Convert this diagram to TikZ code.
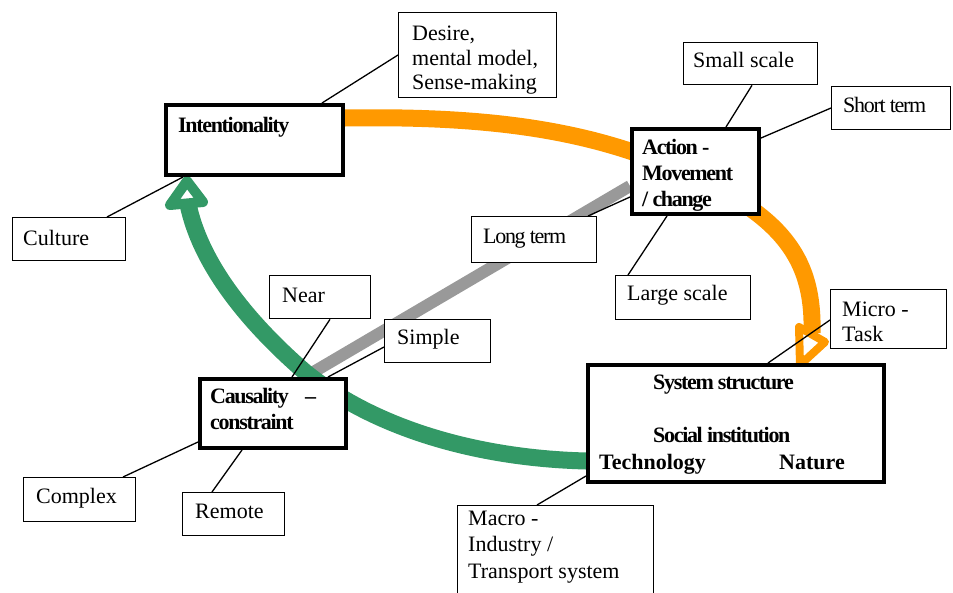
\documentclass[tikz,border=0pt]{standalone}
\usepackage{fontspec}
\setmainfont{Liberation Serif}
\newfontfamily\condfont[LetterSpace=-6]{Liberation Serif}
\definecolor{oline}{HTML}{FF9900}
\definecolor{gline}{HTML}{339966}
\definecolor{grline}{HTML}{999999}
\pgfdeclarelayer{bg}
\pgfsetlayers{bg,main}
\begin{document}
\begin{tikzpicture}[x=1pt,y=-1pt,
  thinbox/.style={draw, line width=1.3pt, fill=white, inner sep=0pt, anchor=north west},
  thickbox/.style={draw, line width=4pt, fill=white, inner sep=0pt, anchor=north west},
  txt/.style={anchor=base west, inner sep=0pt, font=\fontsize{22}{25}\selectfont},
  ctxt/.style={anchor=base west, inner sep=0pt, font=\fontsize{22}{25}\selectfont\condfont},
  btxt/.style={anchor=base west, inner sep=0pt, font=\fontsize{22}{25}\selectfont\condfont\bfseries},
  bntxt/.style={anchor=base west, inner sep=0pt, font=\fontsize{22}{25}\selectfont\bfseries},
  conn/.style={line width=1.3pt},
  orangeline/.style={line width=17pt, oline},
  greenline/.style={line width=17pt, gline},
  grayline/.style={line width=12pt, grline},
  headline/.style={line join=round, fill=white}]
\useasboundingbox (0,0) rectangle (953,592);
\clip (0,0) rectangle (953,592);

% boxes
\node[thinbox, minimum width=158pt, minimum height=85pt] (desire) at (398,12) {};
\node[thickbox, minimum width=177pt, minimum height=70pt] (int) at (164,103) {};
\node[thinbox, minimum width=134pt, minimum height=42pt] (small) at (683,42) {};
\node[thinbox, minimum width=119pt, minimum height=43pt] (short) at (831,86) {};
\node[thickbox, minimum width=127pt, minimum height=85pt] (action) at (630,127) {};
\node[thinbox, minimum width=113pt, minimum height=43pt] (culture) at (12,217) {};
\node[thinbox, minimum width=125pt, minimum height=46pt] (longterm) at (471,216) {};
\node[thinbox, minimum width=135pt, minimum height=44pt] (large) at (615,275) {};
\node[thinbox, minimum width=101pt, minimum height=43pt] (near) at (269,275) {};
\node[thinbox, minimum width=106pt, minimum height=43pt] (simple) at (384,319) {};
\node[thinbox, minimum width=116pt, minimum height=59pt] (micro) at (830,289) {};
\node[thickbox, minimum width=146pt, minimum height=69pt] (causal) at (198,377) {};
\node[thickbox, minimum width=296pt, minimum height=117pt] (system) at (586,363) {};
\node[thinbox, minimum width=112pt, minimum height=44pt] (complex) at (23,477) {};
\node[thinbox, minimum width=102pt, minimum height=43pt] (remote) at (182,492) {};
\node[thinbox, minimum width=196pt, minimum height=100pt] (macro) at (457,505) {};

% texts
\node[txt] (t1) at (412,40) {Desire,};
\node[txt] (t2) at (412,65) {mental model,};
\node[txt] (t3) at (412,89) {Sense-making};
\node[btxt] (t4) at (178,132) {Intentionality};
\node[txt] (t5) at (693,67) {Small scale};
\node[ctxt] (t6) at (843,112) {Short term};
\node[btxt] (t7) at (642,154) {Action -};
\node[btxt] (t8) at (642,180) {Movement};
\node[btxt] (t9) at (642,206) {/ change};
\node[txt] (t10) at (23,245) {Culture};
\node[ctxt] (t11) at (483,243) {Long term};
\node[txt] (t12) at (627,300) {Large scale};
\node[txt] (t13) at (282,302) {Near};
\node[txt] (t14) at (397,344) {Simple};
\node[txt] (t15) at (842,316) {Micro -};
\node[txt] (t16) at (842,341) {Task};
\node[btxt] (t17) at (210,403) {Causality};
\node[btxt] (t18) at (305,403) {–};
\node[btxt] (t19) at (210,429) {constraint};
\node[btxt] (t20) at (653,389) {System structure};
\node[btxt] (t21) at (653,442) {Social institution};
\node[bntxt] (t22) at (599,469) {Technology};
\node[bntxt] (t23) at (779,469) {Nature};
\node[txt] (t24) at (36,503) {Complex};
\node[txt] (t25) at (195,518) {Remote};
\node[txt] (t26) at (468,525) {Macro -};
\node[txt] (t27) at (468,551) {Industry /};
\node[txt] (t28) at (468,578) {Transport system};

% thick curves behind the boxes
\begin{pgfonlayer}{bg}
\draw[grayline] ([xshift=107pt]causal.north west) -- ([yshift=-59pt]action.north west);
\draw[greenline] ([yshift=-98pt]system.north west) .. controls (470,458) and (370,425) .. (305,372)
   .. controls (245,320) and (200,262) .. (188,204);
\draw[gline, line width=10pt, headline] (170,205) -- (187,181) -- (203,202) -- cycle;
\draw[orangeline] ([yshift=22pt]int.east) .. controls (470,116) and (570,126) .. (660,162)
   .. controls (780,210) and (814,255) .. (812,333);
\draw[oline, line width=8pt, headline] (799,327) -- (825,342) -- (800,365) -- cycle;
\end{pgfonlayer}

% connectors
\draw[conn] ([yshift=-43pt]desire.north west) -- ([xshift=158pt]int.north west);
\draw[conn] ([xshift=69pt]small.south west) -- ([xshift=96pt]action.north west);
\draw[conn] ([yshift=-22pt]short.north west) -- ([yshift=-11pt]action.north east);
\draw[conn] ([xshift=95pt]culture.north west) -- ([xshift=19pt]int.south west);
\draw[conn] ([xshift=117pt]longterm.north west) -- ([yshift=-70pt]action.north west);
\draw[conn] ([xshift=13pt]large.north west) -- ([xshift=37pt]action.south west);
\draw[conn] ([xshift=61pt]near.south west) -- ([xshift=94pt]causal.north west);
\draw[conn] ([yshift=-28pt]simple.north west) -- ([xshift=130pt]causal.north west);
\draw[conn] ([yshift=-31pt]micro.north west) -- ([xshift=182pt]system.north west);
\draw[conn] ([xshift=100pt]complex.north west) -- ([yshift=-65pt]causal.north west);
\draw[conn] ([xshift=30pt]remote.north west) -- ([xshift=44pt]causal.south west);
\draw[conn] ([xshift=80pt]macro.north west) -- ([yshift=-113pt]system.north west);
\end{tikzpicture}
\end{document}
